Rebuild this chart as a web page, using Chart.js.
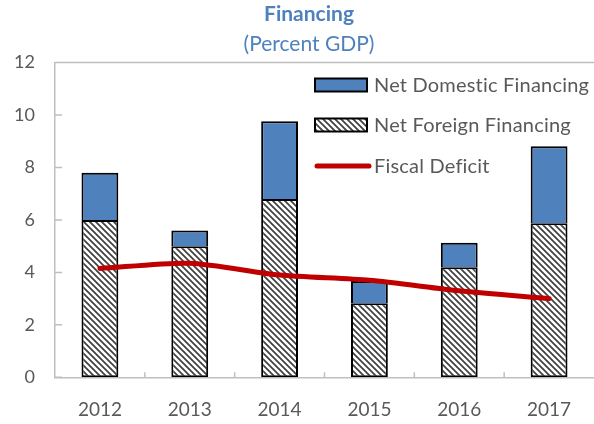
<!DOCTYPE html>
<html>
<head>
<meta charset="utf-8">
<script src="https://cdn.jsdelivr.net/npm/chart.js@4.4.1/dist/chart.umd.min.js"></script>
<style>
  html, body { margin: 0; padding: 0; background: #fff; }
  #wrap { width: 594px; height: 424px; }
</style>
</head>
<body>
<div id="wrap"><canvas id="chartFin"></canvas></div>
<script>
const years = ['2012', '2013', '2014', '2015', '2016', '2017'];
const foreignFin = [6.0, 5.0, 6.8, 2.82, 4.2, 5.87];
const domesticFin = [1.8, 0.6, 2.96, 0.85, 0.93, 2.94];
const fiscalDeficit = [4.15, 4.35, 3.9, 3.7, 3.3, 3.0];

const blue = '#4f81bd';
const red = '#c00000';
const axisGray = '#bfbfbf';
const textGray = '#595959';
const font = 'Lato';

function hatch() {
  const c = document.createElement('canvas');
  c.width = 6; c.height = 6;
  const g = c.getContext('2d');
  g.fillStyle = '#fff';
  g.fillRect(0, 0, 6, 6);
  g.strokeStyle = '#404040';
  g.lineWidth = 1.7;
  g.beginPath();
  g.moveTo(-1, -1); g.lineTo(7, 7);
  g.moveTo(-4, 2); g.lineTo(2, 8);
  g.moveTo(4, -2); g.lineTo(10, 4);
  g.stroke();
  return g.createPattern(c, 'repeat');
}
const hatchFill = hatch();

// frame line on top + inner tick marks, title shifted like the original
const framePlugin = {
  id: 'frame',
  afterLayout(chart) {
    chart.boxes.forEach(b => {
      if (b.options && b.options.text) b.left = 24;
    });
  },
  beforeDatasetsDraw(chart) {
    const { ctx, chartArea: a, scales } = chart;
    ctx.save();
    ctx.strokeStyle = axisGray;
    ctx.lineWidth = 1.5;
    ctx.beginPath();
    ctx.moveTo(a.left, a.top);
    ctx.lineTo(chart.width, a.top);
    scales.y.ticks.forEach(t => {
      const y = scales.y.getPixelForValue(t.value);
      ctx.moveTo(a.left, y);
      ctx.lineTo(a.left + 7, y);
    });
    const half = (scales.x.getPixelForValue(1) - scales.x.getPixelForValue(0)) / 2;
    for (let i = 0; i < years.length - 1; i++) {
      const x = scales.x.getPixelForValue(i) + half;
      ctx.moveTo(x, a.bottom);
      ctx.lineTo(x, a.bottom - 5);
    }
    ctx.stroke();
    ctx.restore();
  }
};

// legend drawn inside the plot, top right
const legendPlugin = {
  id: 'innerLegend',
  afterDraw(chart) {
    const ctx = chart.ctx;
    const ds = chart.data.datasets;
    const x0 = 315, bw = 52, bh = 13;
    const rows = [
      { d: ds[1], y: 85 },
      { d: ds[0], y: 125 },
      { d: ds[2], y: 166 }
    ];
    ctx.save();
    rows.forEach(r => {
      if (r.d.type === 'line') {
        ctx.strokeStyle = r.d.borderColor;
        ctx.lineWidth = 5;
        ctx.lineCap = 'round';
        ctx.beginPath();
        ctx.moveTo(x0 + 2, r.y);
        ctx.lineTo(x0 + bw + 2, r.y);
        ctx.stroke();
      } else {
        ctx.fillStyle = r.d.backgroundColor;
        ctx.fillRect(x0, r.y - bh / 2, bw, bh);
        ctx.strokeStyle = '#000';
        ctx.lineWidth = 2;
        ctx.strokeRect(x0, r.y - bh / 2, bw, bh);
      }
      ctx.fillStyle = textGray;
      ctx.font = '20px ' + font;
      ctx.letterSpacing = '0.2px';
      ctx.textBaseline = 'middle';
      ctx.fillText(r.d.label, x0 + bw + 7, r.y + 1);
    });
    ctx.restore();
  }
};

new Chart(document.getElementById('chartFin'), {
  data: {
    labels: years,
    datasets: [
      {
        type: 'bar',
        label: 'Net Foreign Financing',
        data: foreignFin,
        backgroundColor: hatchFill,
        borderColor: '#000',
        borderWidth: 2,
        borderSkipped: false,
        order: 1
      },
      {
        type: 'bar',
        label: 'Net Domestic Financing',
        data: domesticFin,
        backgroundColor: blue,
        borderColor: '#000',
        borderWidth: 2,
        borderSkipped: 'bottom',
        order: 1
      },
      {
        type: 'line',
        label: 'Fiscal Deficit',
        data: fiscalDeficit,
        borderColor: red,
        borderWidth: 5,
        borderCapStyle: 'round',
        pointRadius: 0,
        tension: 0.25,
        stack: 'deficit',
        order: 0
      }
    ]
  },
  options: {
    responsive: true,
    maintainAspectRatio: false,
    animation: false,
    layout: { padding: 0 },
    datasets: {
      bar: { categoryPercentage: 1, barPercentage: 0.41 }
    },
    plugins: {
      legend: { display: false },
      tooltip: { enabled: false },
      title: {
        display: true,
        text: 'Financing',
        color: blue,
        font: { family: font, size: 21, weight: 'bold', lineHeight: 1.15 },
        padding: { top: 2.5, bottom: 0 }
      },
      subtitle: {
        display: true,
        text: '(Percent GDP)',
        color: blue,
        font: { family: font, size: 21, lineHeight: 1.15 },
        padding: { top: 5.5, bottom: 6.3 }
      }
    },
    scales: {
      x: {
        stacked: true,
        grid: { display: false, drawTicks: false },
        border: { color: axisGray, width: 1.5 },
        ticks: { color: textGray, font: { family: font, size: 19 }, padding: 21 },
        afterFit(s) { s.height = 46.7; }
      },
      y: {
        stacked: true,
        min: 0,
        max: 12,
        grid: { display: false, drawTicks: false },
        border: { color: axisGray, width: 1.5 },
        ticks: { stepSize: 2, color: textGray, font: { family: font, size: 18 }, padding: 20 },
        afterFit(s) { s.width = 55; }
      }
    }
  },
  plugins: [framePlugin, legendPlugin]
});
</script>
</body>
</html>
